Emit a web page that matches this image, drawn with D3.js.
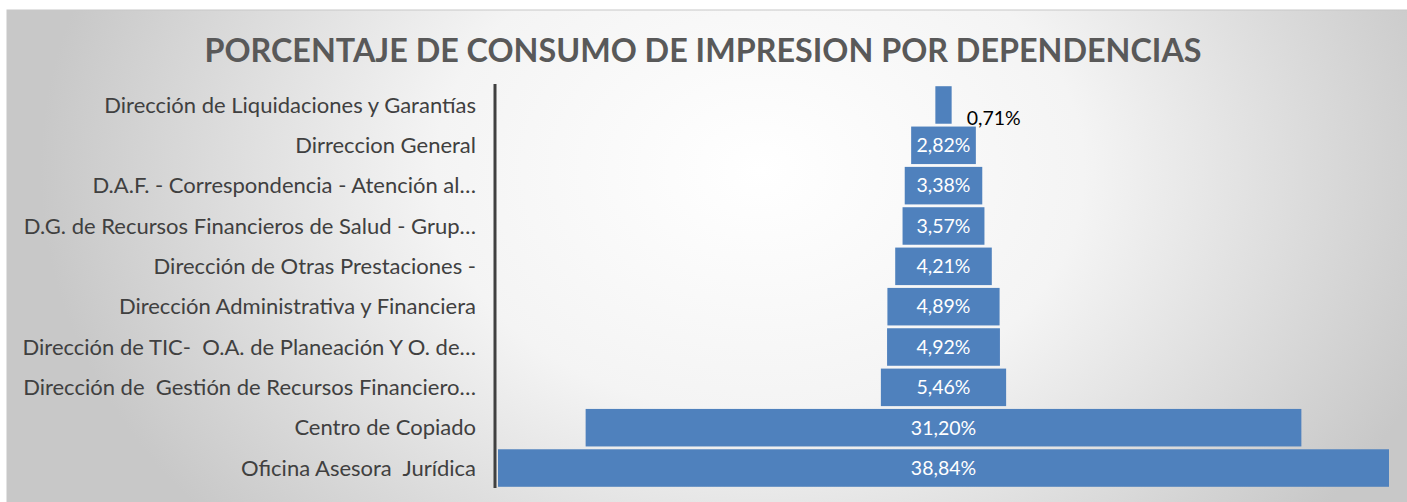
<!DOCTYPE html>
<html>
<head>
<meta charset="utf-8">
<script src="https://cdn.jsdelivr.net/npm/d3@7"></script>
<style>
  body { margin: 0; background: #fff; }
  svg text { font-family: Lato, "Noto Sans", sans-serif; }
</style>
</head>
<body>
<svg id="chart" width="1407" height="502"></svg>
<script>
// data, top to bottom
var categories = [
    "Dirección de Liquidaciones y Garantías",
    "Dirreccion General",
    "D.A.F. - Correspondencia - Atención al…",
    "D.G. de Recursos Financieros de Salud - Grup…",
    "Dirección de Otras Prestaciones -",
    "Dirección Administrativa y Financiera",
    "Dirección de TIC-  O.A. de Planeación Y O. de…",
    "Dirección de  Gestión de Recursos Financiero…",
    "Centro de Copiado",
    "Oficina Asesora  Jurídica"
];
var values = [0.71, 2.82, 3.38, 3.57, 4.21, 4.89, 4.92, 5.46, 31.20, 38.84];
var valueLabels = ["0,71%", "2,82%", "3,38%", "3,57%", "4,21%", "4,89%", "4,92%", "5,46%", "31,20%", "38,84%"];

var svg = d3.select("#chart");

// background panel with radial gradient
var defs = svg.append("defs");
var grad = defs.append("radialGradient")
    .attr("id", "bg")
    .attr("gradientUnits", "userSpaceOnUse")
    .attr("cx", 760).attr("cy", 170)
    .attr("r", 720)
    .attr("gradientTransform", "translate(760,170) scale(1,0.75) translate(-760,-170)");
grad.append("stop").attr("offset", "0%").attr("stop-color", "#ffffff");
grad.append("stop").attr("offset", "45%").attr("stop-color", "#f4f4f4");
grad.append("stop").attr("offset", "100%").attr("stop-color", "#c8c8c8");

svg.append("rect")
    .attr("x", 7).attr("y", 10)
    .attr("width", 1407).attr("height", 500)
    .attr("fill", "url(#bg)")
    .attr("stroke", "#c8c8c8");

// title
svg.append("text")
    .attr("x", 703)
    .attr("y", 62)
    .attr("text-anchor", "middle")
    .attr("font-size", 32.3)
    .attr("font-weight", "bold")
    .attr("fill", "#595959")
    .text("PORCENTAJE DE CONSUMO DE IMPRESION POR DEPENDENCIAS");

var centerX = 943.5;

var y = d3.scaleBand()
    .domain(categories)
    .range([85, 488])
    .paddingInner(0.07)
    .paddingOuter(0.03);

var x = d3.scaleLinear()
    .domain([0, d3.max(values)])
    .range([0, 891]);

var data = categories.map(function (c, i) {
    return { name: c, value: values[i], label: valueLabels[i] };
});

// bars
svg.append("g")
    .selectAll("rect")
    .data(data)
    .enter()
    .append("rect")
    .attr("x", function (d) { return centerX - x(d.value) / 2; })
    .attr("y", function (d) { return y(d.name); })
    .attr("width", function (d) { return x(d.value); })
    .attr("height", y.bandwidth())
    .attr("fill", "#4f81bd");

// category labels
svg.append("g")
    .selectAll("text")
    .data(data)
    .enter()
    .append("text")
    .attr("x", 476)
    .attr("y", function (d) { return y(d.name) + y.bandwidth() / 2; })
    .attr("dy", "0.35em")
    .attr("text-anchor", "end")
    .attr("font-size", 22)
    .attr("fill", "#404040")
    .style("white-space", "pre")
    .text(function (d) { return d.name; });

// axis line
svg.append("line")
    .attr("x1", 495).attr("x2", 495)
    .attr("y1", 84).attr("y2", 488)
    .attr("stroke", "#404040")
    .attr("stroke-width", 3);

// value labels
svg.append("g")
    .selectAll("text")
    .data(data)
    .enter()
    .append("text")
    .attr("x", function (d) {
        return x(d.value) < 40 ? centerX + x(d.value) / 2 + 15 : centerX;
    })
    .attr("y", function (d) {
        var mid = y(d.name) + y.bandwidth() / 2;
        return x(d.value) < 40 ? mid + 13 : mid;
    })
    .attr("dy", "0.35em")
    .attr("text-anchor", function (d) { return x(d.value) < 40 ? "start" : "middle"; })
    .attr("font-size", 19.5)
    .attr("fill", function (d) { return x(d.value) < 40 ? "#000" : "#fff"; })
    .text(function (d) { return d.label; });
</script>
</body>
</html>
